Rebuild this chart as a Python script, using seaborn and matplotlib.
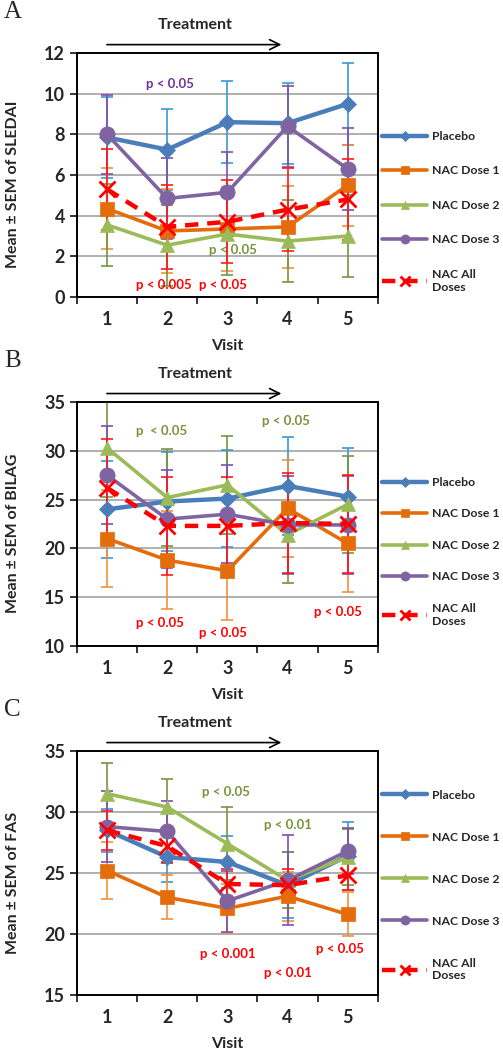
import matplotlib
matplotlib.use("Agg")
import matplotlib.pyplot as plt
import seaborn as sns
import numpy as np

# Data
visits = [1, 2, 3, 4, 5]
series_names = ["Placebo", "NAC Dose 1", "NAC Dose 2", "NAC Dose 3", "NAC All\nDoses"]

sledai_mean = {
    "Placebo": [7.85, 7.25, 8.6, 8.55, 9.5],
    "NAC Dose 1": [4.35, 3.25, 3.35, 3.45, 5.5],
    "NAC Dose 2": [3.55, 2.55, 3.1, 2.75, 3.0],
    "NAC Dose 3": [8.0, 4.85, 5.15, 8.4, 6.3],
    "NAC All\nDoses": [5.3, 3.45, 3.7, 4.3, 4.8],
}
sledai_sem = {
    "Placebo": [2.0, 2.0, 2.0, 2.0, 2.0],
    "NAC Dose 1": [2.0, 2.05, 2.05, 2.0, 2.0],
    "NAC Dose 2": [2.0, 2.0, 2.0, 2.0, 2.0],
    "NAC Dose 3": [1.95, 2.0, 2.0, 2.0, 2.0],
    "NAC All\nDoses": [2.0, 2.05, 2.05, 2.05, 2.0],
}

bilag_mean = {
    "Placebo": [24.0, 24.8, 25.1, 26.4, 25.3],
    "NAC Dose 1": [21.0, 18.8, 17.7, 24.1, 20.5],
    "NAC Dose 2": [30.3, 25.2, 26.5, 21.4, 24.5],
    "NAC Dose 3": [27.5, 23.0, 23.5, 22.4, 22.4],
    "NAC All\nDoses": [26.2, 22.3, 22.3, 22.6, 22.5],
}
bilag_sem = {
    "Placebo": [5.0, 5.1, 5.0, 5.0, 5.0],
    "NAC Dose 1": [5.0, 5.0, 5.0, 5.0, 5.0],
    "NAC Dose 2": [5.0, 5.0, 5.0, 5.0, 5.0],
    "NAC Dose 3": [5.0, 5.0, 5.0, 5.0, 5.0],
    "NAC All\nDoses": [5.0, 5.0, 5.0, 5.1, 5.0],
}

fas_mean = {
    "Placebo": [28.5, 26.3, 25.9, 24.0, 26.4],
    "NAC Dose 1": [25.2, 23.0, 22.1, 23.1, 21.6],
    "NAC Dose 2": [31.5, 30.4, 27.4, 24.4, 26.3],
    "NAC Dose 3": [28.8, 28.4, 22.7, 24.4, 26.8],
    "NAC All\nDoses": [28.5, 27.2, 24.1, 24.0, 24.8],
}
fas_sem = {
    "Placebo": [1.75, 2.0, 2.1, 2.7, 2.8],
    "NAC Dose 1": [2.3, 1.8, 2.0, 2.0, 1.8],
    "NAC Dose 2": [2.5, 2.3, 3.0, 2.3, 2.3],
    "NAC Dose 3": [2.9, 2.5, 2.5, 3.7, 1.9],
    "NAC All\nDoses": [1.6, 1.4, 1.2, 1.3, 1.2],
}

colors = {
    "Placebo": "#4A7EBB",
    "NAC Dose 1": "#E46C0A",
    "NAC Dose 2": "#9BBB59",
    "NAC Dose 3": "#8064A2",
    "NAC All\nDoses": "#FF0000",
}
err_colors = {
    "Placebo": "#3A98D8",
    "NAC Dose 1": "#F0923C",
    "NAC Dose 2": "#77933C",
    "NAC Dose 3": "#7E4FB0",
    "NAC All\nDoses": "#FF1A1A",
}
markers = {"Placebo": "D", "NAC Dose 1": "s", "NAC Dose 2": "^", "NAC Dose 3": "o", "NAC All\nDoses": "x"}
msizes = {"Placebo": 8, "NAC Dose 1": 10, "NAC Dose 2": 10, "NAC Dose 3": 11, "NAC All\nDoses": 12}
lwidths = {"Placebo": 3.2, "NAC Dose 1": 2.6, "NAC Dose 2": 2.6, "NAC Dose 3": 2.6, "NAC All\nDoses": 3.2}

sns.set_style("white")
plt.rcParams["font.family"] = ["Lato", "DejaVu Sans"]
plt.rcParams["font.weight"] = "bold"

fig = plt.figure(figsize=(5.03, 10.5), dpi=100)

# letter, means, sems, ylabel, ylim, step, axes bottom, legend anchor y, legend spacing, notes
panels = [
    ("A", sledai_mean, sledai_sem, "Mean ± SEM of SLEDAI", (0, 12), 2, 0.7171, 0.721, 2.0,
     [("p < 0.05", 2.05, 10.5, "#7030A0"), ("p < 0.05", 3.1, 2.3, "#77933C"),
      ("p < 0.005", 1.95, 0.6, "#FF0000"), ("p < 0.05", 2.93, 0.6, "#FF0000")]),
    ("B", bilag_mean, bilag_sem, "Mean ± SEM of BILAG", (10, 35), 5, 0.3848, 0.733, 1.75,
     [("p  < 0.05", 1.9, 32.0, "#77933C"), ("p < 0.05", 3.97, 33.0, "#77933C"),
      ("p < 0.05", 1.88, 12.4, "#FF0000"), ("p < 0.05", 2.93, 11.3, "#FF0000"),
      ("p < 0.05", 4.84, 13.45, "#FF0000")]),
    ("C", fas_mean, fas_sem, "Mean ± SEM of FAS", (15, 35), 5, 0.0524, 0.881, 2.64,
     [("p < 0.05", 2.98, 31.6, "#77933C"), ("p < 0.01", 4.0, 28.9, "#77933C"),
      ("p < 0.001", 3.0, 18.35, "#FF0000"), ("p < 0.01", 4.0, 16.8, "#FF0000"),
      ("p < 0.05", 4.87, 18.8, "#FF0000")]),
]

for letter, means, sems, ylabel, ylim, ystep, bottom, leg_y, leg_sp, notes in panels:
    ax = fig.add_axes([0.153, bottom, 0.598, 0.2324])
    ax.set_xlim(0.5, 5.5)
    ax.set_ylim(*ylim)
    for y in np.arange(ylim[0] + ystep, ylim[1], ystep):
        ax.axhline(y, color="#9A9A9A", lw=1.1, zorder=0)

    for name in series_names:
        m = means[name]
        s = sems[name]
        ax.errorbar(visits, m, yerr=s, fmt="none", ecolor=err_colors[name],
                    elinewidth=1.2, capsize=4, capthick=1.2, zorder=2)
        dashed = name.startswith("NAC All")
        sns.lineplot(x=visits, y=m, ax=ax, color=colors[name], lw=lwidths[name],
                     marker=markers[name], markersize=msizes[name],
                     markeredgewidth=2.0 if dashed else 0.5,
                     markeredgecolor=colors[name],
                     linestyle=(0, (3, 2)) if dashed else "-",
                     label=name, zorder=3)

    for txt, x, y, c in notes:
        ax.text(x, y, txt, color=c, fontsize=9.5, fontweight="bold",
                ha="center", va="center")

    ax.set_xticks(visits)
    ax.set_xticks(np.arange(0.5, 6.0, 1.0), minor=True)
    ax.tick_params(axis="x", which="major", length=0, pad=10, labelsize=13)
    ax.tick_params(axis="x", which="minor", length=5, width=1.3, direction="out", bottom=True)
    ax.set_yticks(np.arange(ylim[0], ylim[1] + 0.01, ystep))
    ax.tick_params(axis="y", length=5, width=1.3, direction="out", left=True, labelsize=13)
    for lab in ax.get_xticklabels() + ax.get_yticklabels():
        lab.set_fontweight("bold")
    for sp in ax.spines.values():
        sp.set_color("black")
        sp.set_linewidth(1.4)

    ax.set_xlabel("Visit", fontsize=11.5, fontweight="bold", labelpad=8)
    ax.set_ylabel(ylabel, fontsize=11.5, fontweight="bold")
    ax.yaxis.set_label_coords(-0.19, 0.46)

    leg = ax.legend(loc="upper left", bbox_to_anchor=(0.982, leg_y), frameon=False,
                    fontsize=8.8, handlelength=3.7, labelspacing=leg_sp * 0.96,
                    handletextpad=0.4, borderaxespad=0.4, markerscale=0.6)
    for t in leg.get_texts():
        t.set_fontweight("bold")

    # Treatment arrow above the panel
    top = bottom + 0.2324
    fig.text(0.388, top + 0.0265, "Treatment", fontsize=11.5, fontweight="bold",
             ha="center", va="center")
    ax.annotate("", xy=(0.565, top + 0.008), xytext=(0.207, top + 0.008),
                xycoords="figure fraction", textcoords="figure fraction",
                arrowprops=dict(arrowstyle="->", lw=1.2, color="black",
                                mutation_scale=18))
    fig.text(0.008, top + 0.039, letter, fontsize=18, family="Liberation Serif",
             fontweight="normal", ha="left", va="center")

fig.savefig("out.png", dpi=100)
